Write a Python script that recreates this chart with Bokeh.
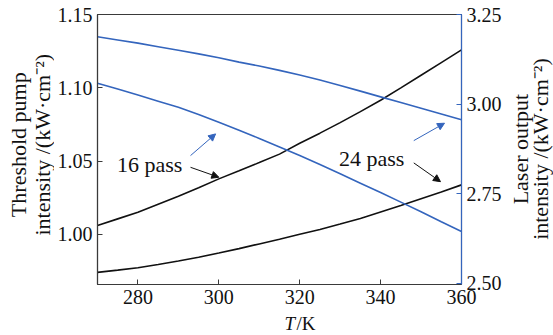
from bokeh.plotting import figure
from bokeh.layouts import row, column
from bokeh.models import (Range1d, LinearAxis, FixedTicker, PrintfTickFormatter,
                          Label, Arrow, NormalHead)
from bokeh.embed import file_html
from bokeh.resources import INLINE
import math

# Temperature samples (K)
temperature = [270, 275, 280, 285, 290, 295, 300, 305, 310, 315,
               320, 325, 330, 335, 340, 345, 350, 355, 360]
# Threshold pump intensity (kW/cm^2), left axis
threshold_16 = [1.0060, 1.0105, 1.0150, 1.0205, 1.0260, 1.0318, 1.0378, 1.0433, 1.0489, 1.0547,
                1.0621, 1.0690, 1.0762, 1.0837, 1.0915, 1.0999, 1.1085, 1.1172, 1.1259]
threshold_24 = [0.9740, 0.9755, 0.9771, 0.9793, 0.9817, 0.9843, 0.9872, 0.9902, 0.9934, 0.9966,
                1.0000, 1.0033, 1.0070, 1.0108, 1.0152, 1.0196, 1.0243, 1.0289, 1.0337]
# Laser output intensity (kW/cm^2), right axis
output_16 = [3.059, 3.043, 3.026, 3.009, 2.992, 2.972, 2.950, 2.928, 2.905, 2.881,
             2.857, 2.832, 2.806, 2.780, 2.754, 2.727, 2.700, 2.672, 2.645]
output_24 = [3.189, 3.180, 3.171, 3.161, 3.151, 3.141, 3.130, 3.118, 3.107, 3.095,
             3.082, 3.068, 3.053, 3.037, 3.021, 3.005, 2.989, 2.973, 2.957]

x_ticks = [280, 300, 320, 340, 360]
left_ticks = [1.00, 1.05, 1.10, 1.15]
right_ticks = [2.50, 2.75, 3.00, 3.25]

FONT = "Liberation Serif"
BLUE = "#3465bd"
BLACK = "#111111"
AXIS = "#3a3a3a"
INK = "#111111"

PLOT_H = 311
FOOT_H = 24

# ---------------------------------------------------------------- main plot
p = figure(width=454, height=PLOT_H,
           x_range=Range1d(270, 360), y_range=Range1d(0.9657, 1.15),
           output_backend="svg", toolbar_location=None,
           min_border_left=43, min_border_right=47,
           min_border_top=14, min_border_bottom=27)
p.grid.visible = False
p.outline_line_color = AXIS
p.outline_line_width = 1.1
p.background_fill_color = "white"
p.border_fill_color = "white"

p.extra_y_ranges = {"out": Range1d(2.497, 3.251)}

xa = p.xaxis[0]
xa.ticker = FixedTicker(ticks=x_ticks)
ya = p.yaxis[0]
ya.ticker = FixedTicker(ticks=left_ticks)
ya.formatter = PrintfTickFormatter(format="%.2f")
ra = LinearAxis(y_range_name="out", ticker=FixedTicker(ticks=right_ticks),
                formatter=PrintfTickFormatter(format="%.2f"))
p.add_layout(ra, "right")

for ax, col in ((xa, AXIS), (ya, AXIS), (ra, BLUE)):
    ax.axis_line_color = col
    ax.axis_line_width = 1.2
    ax.major_tick_line_color = col
    ax.major_tick_line_width = 1.0
    ax.major_tick_in = 5
    ax.major_tick_out = 0
    ax.minor_tick_line_color = None
    ax.major_label_text_font = FONT
    ax.major_label_text_font_size = "20px"
    ax.major_label_text_color = INK
    ax.major_label_standoff = 5

p.line(temperature, threshold_16, line_color=BLACK, line_width=1.6)
p.line(temperature, threshold_24, line_color=BLACK, line_width=1.6)
p.line(temperature, output_16, line_color=BLUE, line_width=1.6, y_range_name="out")
p.line(temperature, output_24, line_color=BLUE, line_width=1.6, y_range_name="out")


def add_text(fig, x, y, s, **kw):
    opts = dict(text_font=FONT, text_font_size="22px", text_color=INK,
                text_align="center", text_baseline="alphabetic")
    opts.update(kw)
    fig.add_layout(Label(x=x, y=y, text=s, **opts))


add_text(p, 282.9, 1.0479, "16 pass")
add_text(p, 337.8, 1.0514, "24 pass")


def arrow(x0, y0, x1, y1, col):
    p.add_layout(Arrow(x_start=x0, y_start=y0, x_end=x1, y_end=y1,
                       line_color=col, line_width=1.0,
                       end=NormalHead(size=7, fill_color=col, line_color=col)))


arrow(293.0, 1.0457, 300.0, 1.0389, BLACK)
arrow(293.0, 1.0537, 299.2, 1.0685, BLUE)
arrow(348.2, 1.0487, 354.8, 1.0359, BLACK)
arrow(348.2, 1.0639, 355.8, 1.0758, BLUE)


def text_strip(w, h):
    """Blank pixel-scaled panel that only carries text."""
    f = figure(width=w, height=h, x_range=Range1d(0, w), y_range=Range1d(0, h),
               output_backend="svg", toolbar_location=None,
               x_axis_location=None, y_axis_location=None,
               min_border=0)
    f.grid.visible = False
    f.outline_line_color = None
    f.background_fill_color = "white"
    f.border_fill_color = "white"
    return f


UNIT = "intensity /(kW\u00b7cm\u207b\u00b2)"

# Left-hand title, two lines read bottom to top
left = text_strip(54, PLOT_H)
add_text(left, 18, PLOT_H - 150, "Threshold pump", angle=math.pi / 2, text_baseline="middle")
add_text(left, 42, PLOT_H - 150, UNIT, angle=math.pi / 2, text_baseline="middle")

# Right-hand title, read the same way
side = text_strip(45, PLOT_H)
add_text(side, 12, PLOT_H - 155, "Laser output", angle=math.pi / 2, text_baseline="middle")
add_text(side, 32, PLOT_H - 155, UNIT, angle=math.pi / 2, text_baseline="middle")

# Bottom title: italic T over kelvin, centred in its strip
foot = text_strip(553, FOOT_H)
add_text(foot, 294.5, FOOT_H / 2, "T", text_align="right", text_font_style="italic",
         text_font_size="19px", text_baseline="middle")
add_text(foot, 296.0, FOOT_H / 2, "/K", text_align="left",
         text_font_size="19px", text_baseline="middle")

layout = column(row(left, p, side, spacing=0), foot, spacing=0)
open("out.html", "w").write(file_html(layout, INLINE))
